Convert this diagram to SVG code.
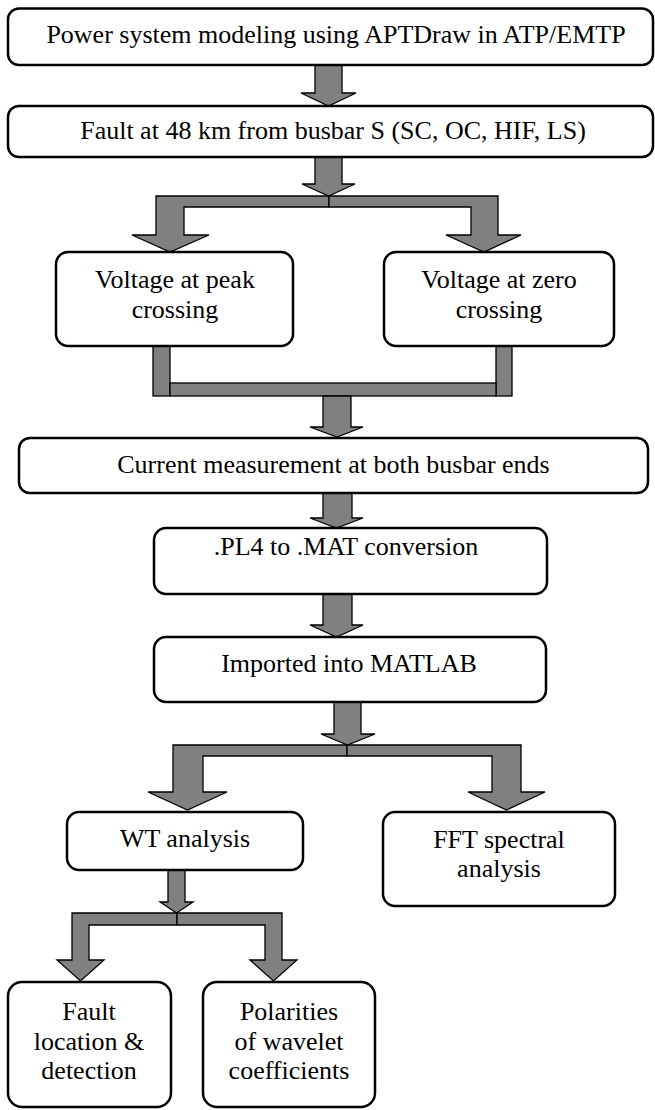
<svg xmlns="http://www.w3.org/2000/svg" width="655" height="1110" viewBox="0 0 655 1110">
<style>
.box{fill:#fff;stroke:#000;stroke-width:2.5}
.arr{fill:#808080;stroke:#000;stroke-width:1.3;stroke-linejoin:miter}
.t{font-family:"Liberation Serif","Times New Roman",serif;font-size:26px;fill:#000;text-anchor:middle}
</style>
<rect width="655" height="1110" fill="#fff"/>
<g id="connectors">
<polygon class="arr" points="315,65 342,65 342,93 356,93 328.5,106 301,93 315,93"/>
<polygon class="arr" points="315,157 342,157 342,184 355,184 328.5,196 302,184 315,184"/>
<polygon class="arr" points="329,196 156,196 156,235 132,235 170,252 209,235 184,235 184,207 329,207"/>
<polygon class="arr" points="329,196 498,196 498,235 521,235 484,252 446,235 471,235 471,207 329,207"/>
<rect class="arr" x="153" y="346" width="17" height="50"/>
<rect class="arr" x="496" y="346" width="16" height="50"/>
<rect class="arr" x="170" y="383" width="326" height="13"/>
<polygon class="arr" points="323,396 351,396 351,427 363,427 337,437 310,427 323,427"/>
<polygon class="arr" points="323,493 352,493 352,518 363,518 336.5,528 310,518 323,518"/>
<polygon class="arr" points="323,594 352,594 352,625 363,625 336.5,637 310,625 323,625"/>
<polygon class="arr" points="334,702 361,702 361,734 375,734 347.5,745 321,734 334,734"/>
<polygon class="arr" points="347,745 173,745 173,792 148,792 187.5,810 227,792 203,792 203,756 347,756"/>
<polygon class="arr" points="347,745 521,745 521,792 545,792 506.5,810 468,792 492,792 492,756 347,756"/>
<polygon class="arr" points="168,870 185,870 185,902 193,902 176.5,913 160,902 168,902"/>
<polygon class="arr" points="177,913 72,913 72,960 57,960 80.5,981 104,960 89,960 89,925 177,925"/>
<polygon class="arr" points="177,913 282,913 282,960 297,960 273.5,981 250,960 265,960 265,925 177,925"/>
</g>
<g id="n1"><rect class="box" x="8" y="8.5" width="645" height="56.5" rx="11"/><text class="t" x="336" y="43">Power system modeling using APTDraw in ATP/EMTP</text></g>
<g id="n2"><rect class="box" x="8" y="106" width="645" height="51" rx="11"/><text class="t" x="333" y="139">Fault at 48 km from busbar S (SC, OC, HIF, LS)</text></g>
<g id="n3"><rect class="box" x="56" y="252" width="237" height="94" rx="12"/><text class="t" x="175" y="288">Voltage at peak</text><text class="t" x="175" y="318">crossing</text></g>
<g id="n4"><rect class="box" x="384" y="252" width="230" height="94" rx="12"/><text class="t" x="499" y="288">Voltage at zero</text><text class="t" x="499" y="318">crossing</text></g>
<g id="n5"><rect class="box" x="19" y="438" width="629" height="55" rx="11"/><text class="t" x="333.5" y="473">Current measurement at both busbar ends</text></g>
<g id="n6"><rect class="box" x="154" y="528" width="393" height="66" rx="12"/><text class="t" x="346" y="555">.PL4 to .MAT conversion</text></g>
<g id="n7"><rect class="box" x="154" y="637" width="392" height="65" rx="12"/><text class="t" x="349" y="672">Imported into MATLAB</text></g>
<g id="n8"><rect class="box" x="67" y="812" width="236" height="58" rx="12"/><text class="t" x="185" y="847">WT analysis</text></g>
<g id="n9"><rect class="box" x="383" y="812" width="232" height="94" rx="12"/><text class="t" x="499" y="848">FFT spectral</text><text class="t" x="499" y="877">analysis</text></g>
<g id="n10"><rect class="box" x="8" y="982" width="163" height="125" rx="14"/><text class="t" x="89" y="1020">Fault</text><text class="t" x="89" y="1050">location &amp;</text><text class="t" x="89" y="1079">detection</text></g>
<g id="n11"><rect class="box" x="203" y="982" width="172" height="125" rx="14"/><text class="t" x="289" y="1020">Polarities</text><text class="t" x="289" y="1050">of wavelet</text><text class="t" x="289" y="1079">coefficients</text></g>
</svg>
